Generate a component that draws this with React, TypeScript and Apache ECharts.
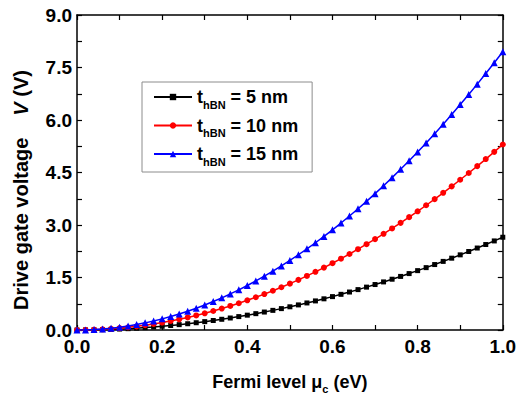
import React, { useEffect, useRef } from "react";
import * as echarts from "echarts";

const fermiLevel = [
  0, 0.02, 0.04, 0.06, 0.08, 0.1, 0.12, 0.14, 0.16, 0.18, 0.2, 0.22, 0.24, 0.26, 0.28, 0.3, 0.32, 0.34, 0.36, 0.38,
  0.4, 0.42, 0.44, 0.46, 0.48, 0.5, 0.52, 0.54, 0.56, 0.58, 0.6, 0.62, 0.64, 0.66, 0.68, 0.7, 0.72, 0.74, 0.76, 0.78,
  0.8, 0.82, 0.84, 0.86, 0.88, 0.9, 0.92, 0.94, 0.96, 0.98, 1.0,
];

const v5nm = [
  0, 0.001, 0.004, 0.01, 0.017, 0.027, 0.038, 0.052, 0.068, 0.086, 0.106, 0.128, 0.153, 0.179, 0.208, 0.239, 0.271,
  0.306, 0.343, 0.383, 0.424, 0.467, 0.513, 0.561, 0.611, 0.663, 0.717, 0.773, 0.831, 0.891, 0.954, 1.019, 1.085,
  1.154, 1.225, 1.299, 1.374, 1.451, 1.531, 1.612, 1.696, 1.782, 1.87, 1.96, 2.052, 2.147, 2.243, 2.342, 2.442, 2.545,
  2.65,
];

const v10nm = [
  0, 0.002, 0.008, 0.019, 0.034, 0.053, 0.076, 0.104, 0.136, 0.172, 0.212, 0.257, 0.305, 0.358, 0.416, 0.477, 0.543,
  0.613, 0.687, 0.765, 0.848, 0.935, 1.026, 1.121, 1.221, 1.325, 1.433, 1.545, 1.662, 1.783, 1.908, 2.037, 2.171,
  2.309, 2.451, 2.597, 2.748, 2.902, 3.061, 3.225, 3.392, 3.564, 3.74, 3.92, 4.104, 4.293, 4.486, 4.683, 4.884, 5.09,
  5.3,
];

const v15nm = [
  0, 0.003, 0.013, 0.029, 0.051, 0.08, 0.114, 0.156, 0.204, 0.258, 0.318, 0.385, 0.458, 0.537, 0.623, 0.716, 0.814,
  0.919, 1.03, 1.148, 1.272, 1.402, 1.539, 1.682, 1.832, 1.988, 2.15, 2.318, 2.493, 2.674, 2.862, 3.056, 3.256, 3.463,
  3.676, 3.896, 4.121, 4.353, 4.592, 4.837, 5.088, 5.346, 5.61, 5.88, 6.156, 6.44, 6.729, 7.025, 7.327, 7.635, 7.95,
];

const seriesNames = ["5 nm", "10 nm", "15 nm"];
const seriesColors = ["#000000", "#ff0000", "#0000ff"];
const seriesSymbols = ["rect", "circle", "triangle"];
const seriesSymbolSizes = [5, 6, 7];
const seriesValues = [v5nm, v10nm, v15nm];

const FONT = "'Liberation Sans', Arial, sans-serif";

export default function App() {
  const ref = useRef<HTMLDivElement>(null);

  useEffect(() => {
    if (!ref.current) return;
    const chart = echarts.init(ref.current, undefined, { renderer: "svg" });

    const axisLine = { show: true, onZero: false, lineStyle: { color: "#000", width: 1.5 } };
    const axisTick = { show: true, inside: true, length: 5, lineStyle: { color: "#000", width: 1.2 } };
    const labelStyle = { color: "#000", fontSize: 19, fontWeight: "bold" as const, fontFamily: FONT };

    const series = seriesNames.map((name, i) => ({
      name,
      type: "line" as const,
      data: fermiLevel.map((x, j) => [x, seriesValues[i][j]]),
      symbol: seriesSymbols[i],
      symbolSize: seriesSymbolSizes[i],
      showSymbol: true,
      lineStyle: { color: seriesColors[i], width: 1.5 },
      itemStyle: { color: seriesColors[i] },
      z: 2 + i,
    }));

    chart.setOption({
      animation: false,
      backgroundColor: "#ffffff",
      grid: { left: 77, right: 13, top: 15, bottom: 66, containLabel: false },
      legend: {
        show: true,
        orient: "vertical",
        left: 142,
        top: 82,
        padding: [6, 14, 5, 11],
        itemGap: 6.5,
        itemWidth: 38,
        itemHeight: 8,
        borderColor: "#8c8c8c",
        borderWidth: 1,
        backgroundColor: "#ffffff",
        data: seriesNames,
        formatter: (n: string) => `{a|t}{s|hBN}{a| = ${n}}`,
        textStyle: {
          rich: {
            a: { fontSize: 18, fontWeight: "bold", fontFamily: FONT, color: "#000", lineHeight: 26 },
            s: {
              fontSize: 11,
              fontWeight: "bold",
              fontFamily: FONT,
              color: "#000",
              lineHeight: 10,
              verticalAlign: "bottom",
            },
          },
        },
      },
      xAxis: [
        {
          type: "value",
          position: "bottom",
          min: 0,
          max: 1,
          interval: 0.1,
          axisLine,
          axisTick,
          splitLine: { show: false },
          axisLabel: {
            ...labelStyle,
            lineHeight: 17,
            margin: 8,
            showMinLabel: true,
            showMaxLabel: true,
            formatter: (v: number) => (Math.round(v * 10) % 2 === 0 ? v.toFixed(1) : ""),
          },
          name: "{a|Fermi level μ}{s|c}{a| (eV)}",
          nameLocation: "middle",
          nameGap: 40,
          nameTextStyle: {
            rich: {
              a: { fontSize: 18, fontWeight: "bold", fontFamily: FONT, color: "#000", lineHeight: 24 },
              s: {
                fontSize: 11,
                fontWeight: "bold",
                fontFamily: FONT,
                color: "#000",
                lineHeight: 10,
                verticalAlign: "bottom",
              },
            },
          },
        },
        {
          type: "value",
          position: "top",
          min: 0,
          max: 1,
          interval: 0.1,
          axisLine,
          axisTick,
          splitLine: { show: false },
          axisLabel: { show: false },
        },
      ],
      yAxis: [
        {
          type: "value",
          position: "left",
          min: 0,
          max: 9,
          interval: 0.75,
          axisLine,
          axisTick,
          splitLine: { show: false },
          axisLabel: {
            ...labelStyle,
            lineHeight: 16,
            margin: 5,
            formatter: (v: number) => (Math.abs(v / 1.5 - Math.round(v / 1.5)) < 1e-6 ? v.toFixed(1) : ""),
          },
        },
        {
          type: "value",
          position: "right",
          min: 0,
          max: 9,
          interval: 0.75,
          axisLine,
          axisTick,
          splitLine: { show: false },
          axisLabel: { show: false },
        },
      ],
      graphic: [
        {
          type: "text",
          x: 21,
          y: 190,
          rotation: Math.PI / 2,
          style: {
            text: "{a|Drive gate voltage}{g|}{i|V}{a| (V)}",
            align: "center",
            verticalAlign: "middle",
            rich: {
              a: { fontSize: 20, fontWeight: "bold", fontFamily: FONT, fill: "#000", color: "#000" },
              g: { width: 22 },
              i: { fontSize: 20, fontWeight: "bold", fontStyle: "italic", fontFamily: FONT, fill: "#000", color: "#000" },
            },
          },
        },
      ],
      series,
    });

    return () => chart.dispose();
  }, []);

  return (
    <div
      ref={ref}
      style={{ position: "fixed", left: 0, top: 0, width: 519, height: 399, background: "#fff" }}
    />
  );
}
